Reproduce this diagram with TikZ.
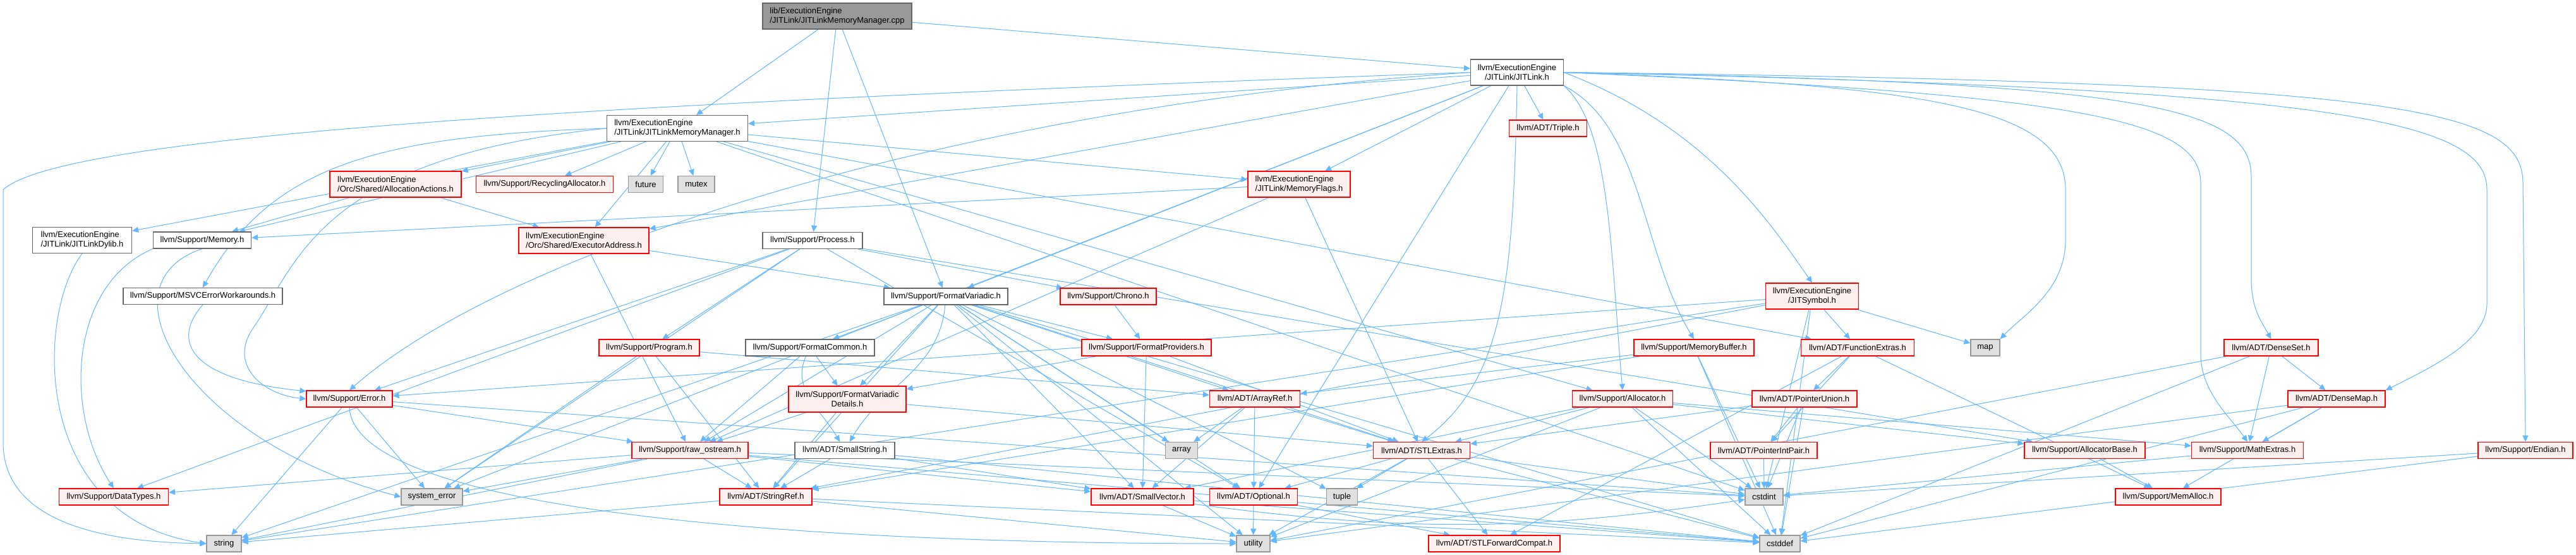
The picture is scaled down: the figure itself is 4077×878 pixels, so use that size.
\documentclass[tikz,border=0pt]{standalone}
\usepackage{fontspec}
\setmainfont{Liberation Sans}
\usepackage{tikz}
\usetikzlibrary{arrows.meta, backgrounds}

\definecolor{edgeblue}{HTML}{63B8FF}
\definecolor{truncfill}{HTML}{FFF0F0}
\definecolor{sysfill}{HTML}{E0E0E0}
\definecolor{sysline}{HTML}{999999}
\definecolor{fileline}{HTML}{666666}
\definecolor{rootfill}{HTML}{999999}

\begin{document}
\begin{tikzpicture}[
    x=1pt, y=1pt,
    box/.style={rectangle, line width=1.2pt, inner sep=2pt, minimum height=26pt,
        font=\fontsize{13}{15}\selectfont},
    main/.style={box, draw=fileline, fill=rootfill},
    file/.style={box, draw=fileline, fill=white},
    trunc/.style={box, draw=red, fill=truncfill},
    sys/.style={box, draw=sysline, fill=sysfill},
    tall/.style={minimum height=41pt},
    dep/.style={-{Triangle[length=10pt,width=9pt]}, draw=edgeblue, line width=1pt},
]
\useasboundingbox (0,0) rectangle (4077,-878);

% ── Row 0-1 ──
\node[main, tall, align=left, minimum width=236pt] (root) at (1325,-25.5) {lib/ExecutionEngine\\/JITLink/JITLinkMemoryManager.cpp};
\node[file, tall, align=center, minimum width=147pt] (jitlink) at (2401,-114.5) {llvm/ExecutionEngine\\/JITLink/JITLink.h};
\node[file, tall, align=left, minimum width=223pt] (jlmm) at (1072,-203) {llvm/ExecutionEngine\\/JITLink/JITLinkMemoryManager.h};
\node[trunc, minimum width=123pt] (triple) at (2450,-203) {llvm/ADT/Triple.h};

% ── Row 2-3 ──
\node[trunc, tall, align=left, minimum width=208pt] (allocact) at (626,-291.5) {llvm/ExecutionEngine\\/Orc/Shared/AllocationActions.h};
\node[trunc, minimum width=217pt] (recycling) at (862,-291.5) {llvm/Support/RecyclingAllocator.h};
\node[sys, minimum width=55pt] (future) at (1022,-291.5) {future};
\node[sys, minimum width=58pt] (mutex) at (1102,-291.5) {mutex};
\node[trunc, tall, align=left, minimum width=162pt] (memflags) at (2056,-291.5) {llvm/ExecutionEngine\\/JITLink/MemoryFlags.h};
\node[file, tall, align=left, minimum width=157pt] (dylib) at (130,-380) {llvm/ExecutionEngine\\/JITLink/JITLinkDylib.h};
\node[file, minimum width=155pt] (memory) at (320,-380) {llvm/Support/Memory.h};
\node[trunc, tall, align=left, minimum width=206pt] (execaddr) at (924,-380.5) {llvm/ExecutionEngine\\/Orc/Shared/ExecutorAddress.h};
\node[file, minimum width=158pt] (process) at (1286,-380.5) {llvm/Support/Process.h};

% ── Row 4 ──
\node[file, minimum width=252pt] (msvc) at (321,-468.5) {llvm/Support/MSVCErrorWorkarounds.h};
\node[file, minimum width=196pt] (fmtvar) at (1497,-469) {llvm/Support/FormatVariadic.h};
\node[trunc, minimum width=152pt] (chrono) at (1754,-469) {llvm/Support/Chrono.h};
\node[trunc, tall, align=center, minimum width=147pt] (jitsymbol) at (2868,-468.5) {llvm/ExecutionEngine\\/JITSymbol.h};

% ── Row 5 ──
\node[trunc, minimum width=159pt] (program) at (1027.5,-550) {llvm/Support/Program.h};
\node[file, minimum width=204pt] (fmtcommon) at (1282,-550) {llvm/Support/FormatCommon.h};
\node[trunc, minimum width=205pt] (fmtproviders) at (1814.5,-550) {llvm/Support/FormatProviders.h};
\node[trunc, minimum width=190pt] (memorybuffer) at (2681,-550) {llvm/Support/MemoryBuffer.h};
\node[trunc, minimum width=179pt] (funcext) at (2940,-550) {llvm/ADT/FunctionExtras.h};
\node[sys, minimum width=46pt] (map) at (3142,-550) {map};
\node[trunc, minimum width=149pt] (denseset) at (3594.5,-550) {llvm/ADT/DenseSet.h};

% ── Row 6 ──
\node[trunc, minimum width=136pt] (error) at (553,-631) {llvm/Support/Error.h};
\node[trunc, tall, align=center, minimum width=186pt] (fvdetails) at (1341,-631.5) {llvm/Support/FormatVariadic\\Details.h};
\node[trunc, minimum width=143pt] (arrayref) at (1986,-631) {llvm/ADT/ArrayRef.h};
\node[trunc, minimum width=159pt] (allocator) at (2568,-631) {llvm/Support/Allocator.h};
\node[trunc, minimum width=166pt] (pointerunion) at (2856,-631) {llvm/ADT/PointerUnion.h};
\node[trunc, minimum width=154pt] (densemap) at (3698,-631) {llvm/ADT/DenseMap.h};

% ── Row 7 ──
\node[trunc, minimum width=184pt] (rawos) at (1092,-712.5) {llvm/Support/raw\_ostream.h};
\node[file, minimum width=158pt] (smallstring) at (1337,-712.5) {llvm/ADT/SmallString.h};
\node[sys, minimum width=51pt] (array) at (1870,-712.5) {array};
\node[trunc, minimum width=153pt] (stlextras) at (2250,-712.5) {llvm/ADT/STLExtras.h};
\node[trunc, minimum width=169pt] (pointerintpair) at (2791.5,-712.5) {llvm/ADT/PointerIntPair.h};
\node[trunc, minimum width=191pt] (allocatorbase) at (3299.5,-712.5) {llvm/Support/AllocatorBase.h};
\node[trunc, minimum width=177pt] (mathextras) at (3557,-712.5) {llvm/Support/MathExtras.h};
\node[trunc, minimum width=150pt] (endian) at (3997,-712.5) {llvm/Support/Endian.h};

% ── Row 8 ──
\node[trunc, minimum width=173pt] (datatypes) at (180,-786) {llvm/Support/DataTypes.h};
\node[sys, minimum width=97pt] (syserr) at (683.5,-786) {system\_error};
\node[trunc, minimum width=146pt] (stringref) at (1212,-786) {llvm/ADT/StringRef.h};
\node[trunc, minimum width=162pt] (smallvector) at (1808,-786) {llvm/ADT/SmallVector.h};
\node[trunc, minimum width=139pt] (optional) at (1984,-786) {llvm/ADT/Optional.h};
\node[sys, minimum width=49pt] (tuple) at (2124,-786) {tuple};
\node[sys, minimum width=60pt] (cstdint) at (2792,-786) {cstdint};
\node[trunc, minimum width=167pt] (memalloc) at (3431.5,-786) {llvm/Support/MemAlloc.h};

% ── Row 9 ──
\node[sys, minimum width=55pt] (string) at (354.5,-860) {string};
\node[sys, minimum width=53pt] (utility) at (1983.5,-860) {utility};
\node[trunc, minimum width=208pt] (stlfwd) at (2365,-860) {llvm/ADT/STLForwardCompat.h};
\node[sys, minimum width=64pt] (cstddef) at (2817,-860) {cstddef};

\begin{scope}[on background layer]
\fill[white] (0,0) rectangle (4077,-878);

% ── Straight includes ──
\foreach \src/\dst in {
    root/jlmm, root/process, root/fmtvar, root/jitlink,
    jlmm/dylib, jlmm/memory, jlmm/allocact, jlmm/recycling, jlmm/future, jlmm/mutex,
    jlmm/execaddr, jlmm/memflags, jlmm/funcext, jlmm/allocator, jlmm/cstdint,
    jitlink/jlmm, jitlink/memflags, jitlink/triple, jitlink/fmtvar, jitlink/optional,
    jitlink/execaddr, jitlink/syserr,
    memflags/memory, memflags/stlextras, memflags/rawos,
    allocact/execaddr, allocact/memory,
    execaddr/fmtvar, execaddr/rawos,
    process/chrono, process/datatypes, process/error, process/program, process/syserr,
    process/optional, process/allocatorbase,
    error/rawos, error/string, error/syserr, error/cstdint,
    program/syserr, program/stringref, program/arrayref,
    fmtcommon/fvdetails, fmtcommon/rawos,
    fvdetails/rawos, fvdetails/stringref, fvdetails/stlextras,
    rawos/stringref, rawos/syserr, rawos/smallvector, rawos/datatypes, rawos/string,
    rawos/cstddef, rawos/cstdint,
    smallstring/smallvector, smallstring/stringref, smallstring/cstddef,
    stringref/string, stringref/utility, stringref/cstddef,
    fmtvar/arrayref, fmtvar/optional, fmtvar/stlextras, fmtvar/smallvector, fmtvar/stringref,
    fmtvar/fmtcommon, fmtvar/fmtproviders, fmtvar/fvdetails, fmtvar/rawos, fmtvar/array,
    fmtvar/cstddef, fmtvar/string, fmtvar/tuple, fmtvar/utility,
    chrono/fmtproviders,
    fmtproviders/fvdetails, fmtproviders/smallvector, fmtproviders/stlextras,
    arrayref/array, arrayref/smallvector, arrayref/optional, arrayref/stlextras,
    smallvector/utility, smallvector/cstddef,
    optional/utility, optional/stlfwd,
    stlextras/optional, stlextras/tuple, stlextras/utility, stlextras/stlfwd,
    stlextras/cstddef, stlextras/cstdint,
    allocator/allocatorbase, allocator/mathextras, allocator/smallvector, allocator/stlextras,
    allocator/cstddef, allocator/cstdint, allocator/utility,
    memorybuffer/arrayref, memorybuffer/stringref, memorybuffer/cstddef, memorybuffer/cstdint,
    jitsymbol/funcext, jitsymbol/map, jitsymbol/stringref, jitsymbol/error, jitsymbol/string,
    jitsymbol/cstddef, jitsymbol/cstdint,
    funcext/pointerunion, funcext/pointerintpair, funcext/stlfwd, funcext/memalloc,
    pointerunion/pointerintpair, pointerunion/stlextras, pointerunion/cstddef, pointerunion/cstdint,
    pointerintpair/cstdint, allocatorbase/memalloc,
    denseset/densemap, denseset/mathextras, denseset/cstddef, denseset/utility,
    densemap/mathextras, densemap/memalloc, densemap/cstddef, densemap/utility,
    mathextras/cstdint, endian/cstdint, endian/cstddef}
    \draw[dep] (\src) -- (\dst);

% ── Bent includes ──
\draw[dep] (smallvector) to[bend right=8] (cstdint);
\draw[dep] (fmtcommon) to[out=-115, in=120] (smallstring);
\draw[dep] (fmtvar) to[out=-95, in=60] (smallstring);
\draw[dep] (jlmm.west) .. controls (600,-215) and (430,-260) .. (msvc.north);
\draw[dep] (jlmm.west) .. controls (500,-250) and (470,-420) .. (400,-520)
    .. controls (360,-580) and (420,-625) .. (error.west);
\draw[dep] (msvc.south) .. controls (270,-540) and (300,-600) .. (error.170);
\draw[dep] (memory.south) .. controls (150,-450) and (300,-700) .. (syserr.west);
\draw[dep] (memory.south west) .. controls (110,-450) and (100,-650) .. (datatypes.north);
\draw[dep] (dylib.south) .. controls (56,-500) and (50,-820) .. (string.west);
\draw[dep] (error.south) .. controls (560,-800) and (1200,-860) .. (utility.west);

% ── JITLink.h long routes ──
\draw[dep] (jitlink.west) .. controls (900,-165) and (100,-215) .. (5,-300)
    -- (5,-700) .. controls (5,-840) and (200,-858) .. (string.west);
\draw[dep] (jitlink.west) .. controls (1500,-170) and (800,-400) .. (error.north);
\draw[dep] (jitlink.east) .. controls (3050,-135) and (3269,-170) .. (3269,-300)
    -- (3269,-380) .. controls (3269,-460) and (3200,-500) .. (map.north east);
\draw[dep] (jitlink.east) .. controls (3400,-130) and (3563,-170) .. (3563,-280)
    -- (3563,-440) .. controls (3563,-490) and (3580,-510) .. (denseset.north);
\draw[dep] (jitlink.east) .. controls (3700,-140) and (3936,-190) .. (3936,-300)
    -- (3936,-480) .. controls (3936,-540) and (3850,-580) .. (densemap.north east);
\draw[dep] (jitlink.east) .. controls (3800,-130) and (3993,-170) .. (3993,-290)
    -- (endian.north);
\draw[dep] (jitlink.east) .. controls (3300,-150) and (3483,-190) .. (3483,-290)
    -- (3483,-560) .. controls (3483,-620) and (3530,-660) .. (mathextras.north);
\draw[dep] (jitlink.south east) .. controls (2549,-200) and (2549,-400) .. (allocator.north);
\draw[dep] (jitlink.south east) .. controls (2600,-200) and (2598,-400) .. (memorybuffer.north);
\draw[dep] (jitlink.east) .. controls (2700,-200) and (2800,-350) .. (jitsymbol.north);
\draw[dep] (jitlink.south) .. controls (2395,-450) and (2380,-600) .. (stlextras.north);
\end{scope}

\end{tikzpicture}
\end{document}
